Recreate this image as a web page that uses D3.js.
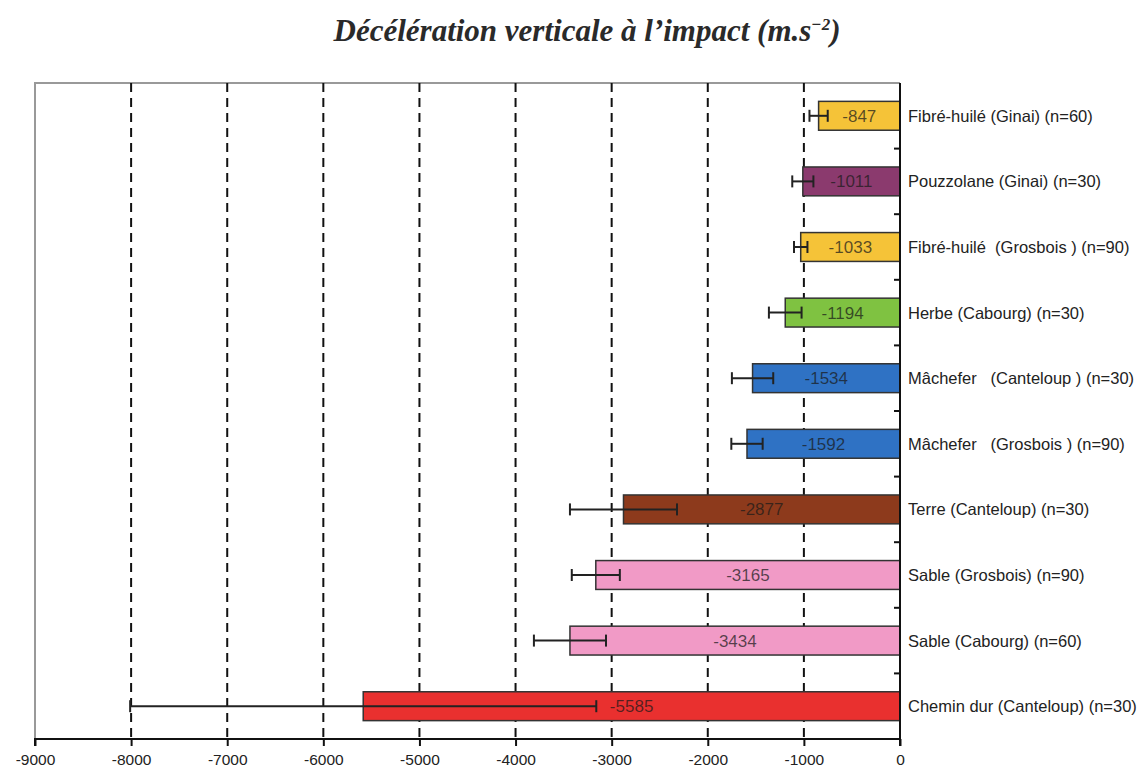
<!DOCTYPE html>
<html><head><meta charset="utf-8">
<script src="https://cdn.jsdelivr.net/npm/d3@7"></script>
<style>body{margin:0;background:#fff}svg{display:block}</style>
</head><body>
<svg id="c" width="1144" height="774"></svg>
<script>
const categories = [
  "Fibré-huilé (Ginai) (n=60)",
  "Pouzzolane (Ginai) (n=30)",
  "Fibré-huilé  (Grosbois ) (n=90)",
  "Herbe (Cabourg) (n=30)",
  "Mâchefer   (Canteloup ) (n=30)",
  "Mâchefer   (Grosbois ) (n=90)",
  "Terre (Canteloup) (n=30)",
  "Sable (Grosbois) (n=90)",
  "Sable (Cabourg) (n=60)",
  "Chemin dur (Canteloup) (n=30)"
];
const values = [-847, -1011, -1033, -1194, -1534, -1592, -2877, -3165, -3434, -5585];
const errors = [95, 110, 70, 170, 215, 163, 557, 250, 375, 2425];
const colors = ["#f5c338", "#8b3a6e", "#f5c338", "#7fc241", "#2f72c4", "#2f72c4", "#8d3a1c", "#f19ac6", "#f19ac6", "#e9302f"];
const xTicks = [-9000, -8000, -7000, -6000, -5000, -4000, -3000, -2000, -1000, 0];
const gridValues = [-8000, -7000, -6000, -5000, -4000, -3000, -2000, -1000];
const title = "Décélération verticale à l’impact (m.s";

const svg = d3.select("#c");
const L = 35, R = 900, T = 83, B = 739;
const x = d3.scaleLinear().domain([-9000, 0]).range([L, R]);
const y = d3.scaleBand().domain(categories).range([T, B]).paddingInner(0.56).paddingOuter(0.28);

// title
const t = svg.append("text").attr("x", 587).attr("y", 41).attr("text-anchor", "middle")
  .attr("font-family", "'Liberation Serif', 'DejaVu Serif', serif").attr("font-style", "italic")
  .attr("font-weight", "bold").attr("font-size", 31).attr("fill", "#2a2a2a").text(title);
t.append("tspan").attr("dy", -11).attr("font-size", 17).text("−2");
t.append("tspan").attr("dy", 11).text(")");

// frame (top, left)
svg.append("path").attr("d", `M${L},${B} V${T} H${R}`).attr("fill", "none").attr("stroke", "#999").attr("stroke-width", 2);

// grid lines
svg.append("g").selectAll("line").data(gridValues).join("line")
  .attr("x1", d => x(d)).attr("x2", d => x(d)).attr("y1", T).attr("y2", B)
  .attr("stroke", "#111").attr("stroke-width", 2).attr("stroke-dasharray", "9,6");

// bars
svg.append("g").selectAll("rect").data(values).join("rect")
  .attr("x", d => x(d)).attr("width", d => x(0) - x(d))
  .attr("y", (d, i) => y(categories[i])).attr("height", y.bandwidth())
  .attr("fill", (d, i) => colors[i]).attr("stroke", "#333").attr("stroke-width", 1.5);

// error bars
const eb = svg.append("g").attr("stroke", "#222").attr("stroke-width", 2);
values.forEach((v, i) => {
  const cy = y(categories[i]) + y.bandwidth() / 2;
  const x1 = x(v - errors[i]), x2 = x(v + errors[i]);
  eb.append("line").attr("x1", x1).attr("x2", x2).attr("y1", cy).attr("y2", cy);
  eb.append("line").attr("x1", x1).attr("x2", x1).attr("y1", cy - 6).attr("y2", cy + 6);
  eb.append("line").attr("x1", x2).attr("x2", x2).attr("y1", cy - 6).attr("y2", cy + 6);
});

// value labels
svg.append("g").selectAll("text").data(values).join("text")
  .attr("x", d => (x(d) + x(0)) / 2).attr("y", (d, i) => y(categories[i]) + y.bandwidth() / 2 + 6)
  .attr("text-anchor", "middle").attr("font-family", "'Liberation Sans', Arial, sans-serif")
  .attr("font-size", 17).attr("fill", "#1a1a1a").attr("fill-opacity", 0.72).text(d => d);

// y axis (right side at 0)
const yAxisG = svg.append("g");
yAxisG.append("line").attr("x1", R).attr("x2", R).attr("y1", T).attr("y2", B).attr("stroke", "#111").attr("stroke-width", 2);
const bounds = d3.range(1, categories.length).map(i => T + i * (B - T) / categories.length);
yAxisG.selectAll("line.tk").data(bounds).join("line").attr("class", "tk")
  .attr("x1", R - 6).attr("x2", R).attr("y1", d => d).attr("y2", d => d).attr("stroke", "#111").attr("stroke-width", 2);

// category labels
svg.append("g").selectAll("text").data(categories).join("text")
  .attr("x", 908).attr("y", d => y(d) + y.bandwidth() / 2 + 6)
  .attr("font-family", "'Liberation Sans', Arial, sans-serif").attr("font-size", 16.5)
  .attr("fill", "#222").attr("xml:space", "preserve").style("white-space", "pre").text(d => d);

// x axis
const xAxis = d3.axisBottom(x).tickValues(xTicks).tickSize(7).tickFormat(d => String(d));
const xg = svg.append("g").attr("transform", `translate(0,${B})`).call(xAxis);
xg.select(".domain").attr("stroke", "#111").attr("stroke-width", 2).attr("d", `M${L},7V0H${R}V7`);
xg.selectAll(".tick line").attr("stroke", "#111").attr("stroke-width", 2);
xg.selectAll(".tick text").attr("font-family", "'Liberation Sans', Arial, sans-serif")
  .attr("font-size", 15.5).attr("fill", "#222").attr("dy", "1em");
</script>
</body></html>
